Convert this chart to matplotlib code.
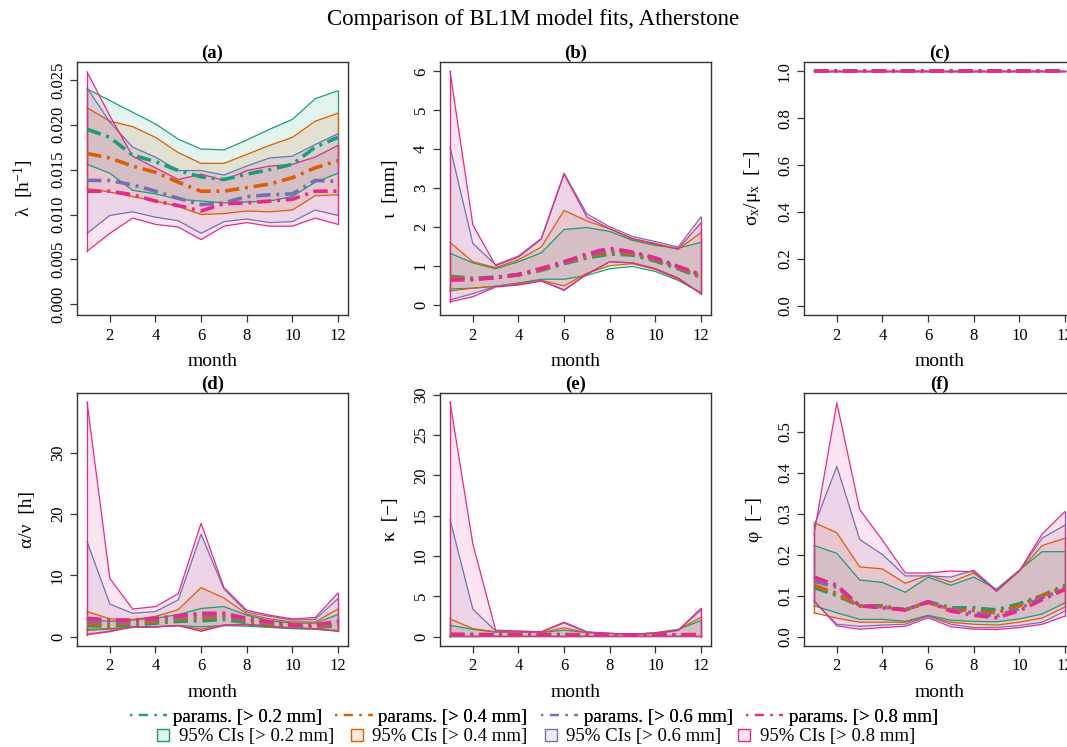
import matplotlib
matplotlib.use("Agg")
import matplotlib.pyplot as plt
from matplotlib.lines import Line2D
from matplotlib.patches import Patch
import numpy as np

plt.rcParams['font.family'] = ['Liberation Serif', 'DejaVu Serif']
plt.rcParams['mathtext.fontset'] = 'custom'
plt.rcParams['mathtext.rm'] = 'Liberation Serif'
plt.rcParams['mathtext.it'] = 'Liberation Serif:italic'

months = list(range(1, 13))
series_names = ["> 0.2 mm", "> 0.4 mm", "> 0.6 mm", "> 0.8 mm"]
colors = ["#1B9E77", "#D95F02", "#7570B3", "#E7298A"]

# ---------------- panel (a): lambda ----------------
a_par = [
    [0.0195, 0.0186, 0.0166, 0.0159, 0.0149, 0.0142, 0.0139, 0.0145, 0.0150, 0.0156, 0.0175, 0.0186],
    [0.0168, 0.0163, 0.0154, 0.0147, 0.0136, 0.0126, 0.0126, 0.0130, 0.0134, 0.0141, 0.0152, 0.0160],
    [0.0138, 0.0138, 0.0133, 0.0126, 0.0118, 0.0111, 0.0113, 0.0120, 0.0122, 0.0123, 0.0138, 0.0137],
    [0.0126, 0.0126, 0.0122, 0.0115, 0.0110, 0.0104, 0.0112, 0.0113, 0.0115, 0.0117, 0.0126, 0.0126],
]
a_lo = [
    [0.0156, 0.0146, 0.0127, 0.0123, 0.0117, 0.0115, 0.0113, 0.0114, 0.0115, 0.0120, 0.0136, 0.0146],
    [0.0129, 0.0125, 0.0120, 0.0115, 0.0109, 0.0100, 0.0101, 0.0104, 0.0103, 0.0105, 0.0121, 0.0122],
    [0.0079, 0.0099, 0.0103, 0.0097, 0.0093, 0.0079, 0.0092, 0.0095, 0.0091, 0.0092, 0.0105, 0.0099],
    [0.0059, 0.0079, 0.0096, 0.0089, 0.0086, 0.0072, 0.0087, 0.0091, 0.0087, 0.0087, 0.0096, 0.0089],
]
a_hi = [
    [0.0240, 0.0227, 0.0214, 0.0201, 0.0184, 0.0173, 0.0172, 0.0183, 0.0195, 0.0206, 0.0229, 0.0238],
    [0.0219, 0.0204, 0.0198, 0.0186, 0.0169, 0.0157, 0.0157, 0.0167, 0.0177, 0.0186, 0.0204, 0.0213],
    [0.0241, 0.0203, 0.0175, 0.0164, 0.0149, 0.0149, 0.0144, 0.0154, 0.0163, 0.0165, 0.0178, 0.0190],
    [0.0259, 0.0210, 0.0165, 0.0152, 0.0139, 0.0145, 0.0138, 0.0149, 0.0154, 0.0156, 0.0164, 0.0177],
]

# ---------------- panel (b): iota ----------------
b_par = [
    [0.72, 0.68, 0.70, 0.76, 0.88, 1.05, 1.20, 1.30, 1.27, 1.12, 0.92, 0.70],
    [0.70, 0.66, 0.70, 0.77, 0.90, 1.07, 1.23, 1.35, 1.30, 1.15, 0.95, 0.72],
    [0.66, 0.65, 0.70, 0.77, 0.92, 1.08, 1.27, 1.40, 1.33, 1.18, 0.97, 0.75],
    [0.63, 0.64, 0.69, 0.77, 0.93, 1.10, 1.30, 1.45, 1.35, 1.20, 0.98, 0.77],
]
b_lo = [
    [0.40, 0.42, 0.47, 0.55, 0.65, 0.65, 0.75, 0.92, 0.98, 0.85, 0.62, 0.30],
    [0.35, 0.42, 0.47, 0.55, 0.62, 0.48, 0.80, 1.00, 1.05, 0.90, 0.65, 0.30],
    [0.12, 0.28, 0.47, 0.52, 0.62, 0.36, 0.78, 1.10, 1.07, 0.92, 0.68, 0.28],
    [0.07, 0.20, 0.45, 0.50, 0.60, 0.38, 0.78, 1.10, 1.07, 0.92, 0.68, 0.27],
]
b_hi = [
    [1.32, 1.07, 0.92, 1.10, 1.33, 1.93, 1.98, 1.88, 1.65, 1.52, 1.45, 1.60],
    [1.60, 1.10, 0.95, 1.15, 1.48, 2.42, 2.15, 1.95, 1.68, 1.55, 1.42, 1.85],
    [4.05, 1.57, 1.02, 1.25, 1.70, 3.38, 2.33, 2.00, 1.75, 1.62, 1.48, 2.25],
    [6.00, 2.05, 1.00, 1.22, 1.68, 3.35, 2.25, 1.95, 1.70, 1.57, 1.43, 2.10],
]

# ---------------- panel (c): sigma_x / mu_x ----------------
c_par = [[1.0] * 12 for _ in range(4)]
c_lo = [[1.0] * 12 for _ in range(4)]
c_hi = [[1.0] * 12 for _ in range(4)]

# ---------------- panel (d): alpha / nu ----------------
d_par = [
    [1.8, 1.7, 1.9, 2.2, 2.5, 2.6, 2.8, 2.3, 2.0, 1.6, 1.5, 1.8],
    [2.1, 2.0, 2.2, 2.5, 2.9, 3.0, 3.2, 2.6, 2.1, 1.7, 1.6, 2.0],
    [2.6, 2.4, 2.5, 2.8, 3.2, 3.5, 3.5, 2.8, 2.3, 1.8, 1.8, 2.3],
    [3.0, 2.7, 2.7, 3.0, 3.4, 3.8, 3.8, 3.0, 2.4, 1.9, 1.9, 2.5],
]
d_lo = [
    [1.2, 1.3, 1.5, 1.6, 1.8, 1.6, 1.8, 1.7, 1.5, 1.3, 1.2, 1.0],
    [1.0, 1.2, 1.5, 1.6, 1.8, 1.2, 1.9, 1.9, 1.6, 1.4, 1.2, 0.9],
    [0.4, 0.9, 1.6, 1.6, 1.8, 0.9, 1.9, 2.0, 1.7, 1.4, 1.3, 0.9],
    [0.3, 0.8, 1.6, 1.6, 1.8, 0.9, 1.8, 2.0, 1.7, 1.4, 1.3, 0.9],
]
d_hi = [
    [2.8, 2.5, 2.7, 3.0, 3.6, 4.6, 4.9, 3.5, 2.6, 2.2, 2.2, 3.6],
    [4.1, 2.9, 2.8, 3.3, 4.4, 8.0, 6.3, 3.7, 2.9, 2.4, 2.4, 4.5],
    [15.5, 5.3, 3.8, 4.1, 6.0, 16.7, 7.8, 4.0, 3.3, 2.7, 2.8, 6.2],
    [38.3, 9.5, 4.5, 4.9, 7.0, 18.5, 8.0, 4.3, 3.5, 2.9, 3.1, 7.1],
]

# ---------------- panel (e): kappa ----------------
e_par = [
    [0.22, 0.22, 0.21, 0.21, 0.20, 0.22, 0.20, 0.18, 0.17, 0.18, 0.20, 0.22],
    [0.24, 0.23, 0.22, 0.22, 0.21, 0.23, 0.21, 0.19, 0.18, 0.19, 0.21, 0.23],
    [0.26, 0.25, 0.23, 0.23, 0.22, 0.24, 0.22, 0.20, 0.19, 0.20, 0.22, 0.25],
    [0.28, 0.27, 0.24, 0.24, 0.23, 0.25, 0.23, 0.21, 0.20, 0.21, 0.23, 0.27],
]
e_lo = [
    [0.05, 0.05, 0.05, 0.05, 0.05, 0.05, 0.05, 0.05, 0.05, 0.05, 0.05, 0.05],
    [0.04, 0.04, 0.04, 0.04, 0.04, 0.04, 0.04, 0.04, 0.04, 0.04, 0.04, 0.04],
    [0.02, 0.02, 0.03, 0.03, 0.03, 0.02, 0.03, 0.03, 0.03, 0.03, 0.03, 0.02],
    [0.01, 0.01, 0.02, 0.02, 0.02, 0.01, 0.02, 0.02, 0.02, 0.02, 0.02, 0.01],
]
e_hi = [
    [1.4, 0.9, 0.55, 0.55, 0.5, 0.8, 0.5, 0.4, 0.3, 0.5, 0.9, 2.0],
    [2.2, 1.0, 0.6, 0.6, 0.5, 1.1, 0.5, 0.4, 0.3, 0.45, 0.85, 2.4],
    [14.5, 3.4, 0.7, 0.65, 0.55, 1.7, 0.55, 0.4, 0.3, 0.4, 0.75, 3.3],
    [29.1, 11.5, 0.8, 0.7, 0.6, 1.8, 0.6, 0.4, 0.3, 0.4, 0.8, 3.5],
]

# ---------------- panel (f): phi ----------------
f_par = [
    [0.120, 0.100, 0.075, 0.075, 0.065, 0.085, 0.070, 0.070, 0.065, 0.080, 0.100, 0.125],
    [0.125, 0.105, 0.075, 0.073, 0.065, 0.083, 0.067, 0.063, 0.058, 0.075, 0.100, 0.120],
    [0.135, 0.120, 0.075, 0.072, 0.065, 0.085, 0.065, 0.058, 0.050, 0.068, 0.095, 0.115],
    [0.145, 0.125, 0.075, 0.070, 0.065, 0.085, 0.062, 0.052, 0.046, 0.063, 0.090, 0.115],
]
f_lo = [
    [0.075, 0.058, 0.042, 0.042, 0.037, 0.052, 0.040, 0.037, 0.036, 0.043, 0.055, 0.082],
    [0.058, 0.045, 0.035, 0.035, 0.035, 0.050, 0.035, 0.030, 0.028, 0.035, 0.045, 0.072],
    [0.085, 0.030, 0.025, 0.028, 0.030, 0.050, 0.030, 0.022, 0.022, 0.027, 0.035, 0.062],
    [0.088, 0.026, 0.018, 0.022, 0.025, 0.046, 0.024, 0.018, 0.017, 0.022, 0.030, 0.050],
]
f_hi = [
    [0.222, 0.203, 0.138, 0.132, 0.108, 0.145, 0.125, 0.145, 0.116, 0.162, 0.207, 0.207],
    [0.278, 0.253, 0.170, 0.165, 0.130, 0.150, 0.133, 0.155, 0.113, 0.160, 0.222, 0.240],
    [0.270, 0.415, 0.237, 0.200, 0.148, 0.148, 0.145, 0.162, 0.113, 0.160, 0.240, 0.272],
    [0.250, 0.570, 0.310, 0.235, 0.155, 0.155, 0.160, 0.158, 0.110, 0.160, 0.250, 0.305],
]

panel_titles = ["(a)", "(b)", "(c)", "(d)", "(e)", "(f)"]
ylabels = [r"λ  [h$^{-1}$]", "ι  [mm]", r"σ$_\mathrm{x}$/μ$_\mathrm{x}$  [−]",
           "α/ν  [h]", "κ  [−]", "φ  [−]"]
yticks_list = [
    [0.0, 0.005, 0.010, 0.015, 0.020, 0.025],
    [0, 1, 2, 3, 4, 5, 6],
    [0.0, 0.2, 0.4, 0.6, 0.8, 1.0],
    [0, 10, 20, 30],
    [0, 5, 10, 15, 20, 25, 30],
    [0.0, 0.1, 0.2, 0.3, 0.4, 0.5],
]
ytick_fmt = ["{:.3f}", "{:.0f}", "{:.1f}", "{:.0f}", "{:.0f}", "{:.1f}"]
ylims = [(-0.0012, 0.0270), (-0.27, 6.24), (-0.04, 1.04),
         (-1.53, 39.75), (-1.16, 30.2), (-0.023, 0.594)]
panels = [(a_par, a_lo, a_hi), (b_par, b_lo, b_hi), (c_par, c_lo, c_hi),
          (d_par, d_lo, d_hi), (e_par, e_lo, e_hi), (f_par, f_lo, f_hi)]

W, H = 1067, 747
fig = plt.figure(figsize=(W / 100, H / 100), dpi=100)

lefts = [77, 440, 804]
tops = [62, 393]
aw, ah = 271, 253
dash = (0, (4, 1.6, 0.8, 1.6))

for i, (par, lo, hi) in enumerate(panels):
    r, c = divmod(i, 3)
    ax = fig.add_axes([lefts[c] / W, 1 - (tops[r] + ah) / H, aw / W, ah / H])
    x = np.array(months)
    for k in range(4):
        ax.fill_between(x, lo[k], hi[k], facecolor=colors[k], alpha=0.12, linewidth=0)
        ax.plot(x, lo[k], color=colors[k], lw=0.9)
        ax.plot(x, hi[k], color=colors[k], lw=0.9)
        ax.plot([1, 1], [lo[k][0], hi[k][0]], color=colors[k], lw=0.9)
        ax.plot([12, 12], [lo[k][-1], hi[k][-1]], color=colors[k], lw=0.9)
    for k in range(4):
        ax.plot(x, par[k], color=colors[k], lw=2.6, linestyle=dash)
    ax.set_xlim(0.56, 12.44)
    ax.set_ylim(*ylims[i])
    ax.set_xticks([2, 4, 6, 8, 10, 12])
    ax.set_yticks(yticks_list[i])
    ax.set_yticklabels([ytick_fmt[i].format(v) for v in yticks_list[i]],
                       rotation=90, va='center')
    ax.tick_params(axis='both', labelsize=12, length=5, width=0.9, color='#333333')
    ax.tick_params(axis='x', pad=4)
    ax.tick_params(axis='y', pad=3)
    for s in ax.spines.values():
        s.set_color('#333333')
        s.set_linewidth(1.0)
    ax.set_xlabel("month", fontsize=14, labelpad=7)
    ax.set_ylabel(ylabels[i], fontsize=14, labelpad=10)
    ax.set_title(panel_titles[i], fontsize=13.5, fontweight='bold', pad=3)

fig.text(0.5, 1 - 20 / H, "Comparison of BL1M model fits, Atherstone",
         ha='center', va='center', fontsize=16.5)

line_handles = [Line2D([], [], color=colors[k], lw=1.6, linestyle=(0, (1, 3, 4, 3)))
                for k in range(4)]
line_labels = ["params. [" + s + "]" for s in series_names]
patch_handles = [Patch(facecolor=matplotlib.colors.to_rgba(colors[k], 0.12),
                       edgecolor=colors[k], linewidth=1.0) for k in range(4)]
patch_labels = ["95% CIs [" + s + "]" for s in series_names]

leg1 = fig.legend(line_handles, line_labels, ncol=4, loc='center',
                  bbox_to_anchor=(534 / W, 1 - 717 / H), frameon=False, fontsize=13.5,
                  handlelength=2.0, handletextpad=0.3, columnspacing=0.7,
                  borderpad=0, borderaxespad=0)
leg2 = fig.legend(patch_handles, patch_labels, ncol=4, loc='center',
                  bbox_to_anchor=(536 / W, 1 - 737 / H), frameon=False, fontsize=13.5,
                  handlelength=0.65, handleheight=0.65, handletextpad=0.5,
                  columnspacing=0.9, borderpad=0, borderaxespad=0)
fig.add_artist(leg1)

fig.savefig("out.png", dpi=100)
